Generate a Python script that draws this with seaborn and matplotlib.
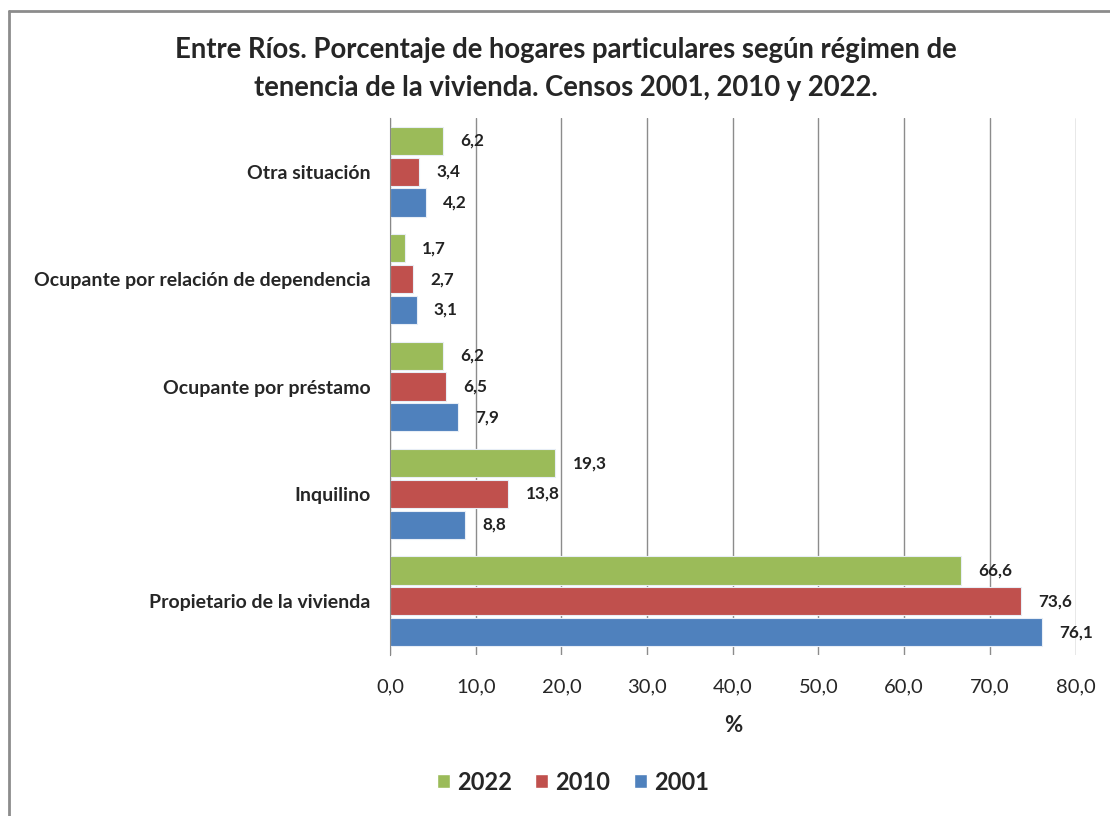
import matplotlib
matplotlib.use("Agg")
import matplotlib.pyplot as plt
from matplotlib.lines import Line2D
from matplotlib.patches import Patch
import seaborn as sns
import pandas as pd

categories = ["Otra situación", "Ocupante por relación de dependencia",
              "Ocupante por préstamo", "Inquilino", "Propietario de la vivienda"]
years = ["2022", "2010", "2001"]
values_2022 = [6.2, 1.7, 6.2, 19.3, 66.6]
values_2010 = [3.4, 2.7, 6.5, 13.8, 73.6]
values_2001 = [4.2, 3.1, 7.9, 8.8, 76.1]
xticks = [0, 10, 20, 30, 40, 50, 60, 70, 80]

colors = {"2022": "#9BBB59", "2010": "#C0504D", "2001": "#4F81BD"}

rows = []
for y, vals in zip(years, [values_2022, values_2010, values_2001]):
    for c, v in zip(categories, vals):
        rows.append({"cat": c, "year": y, "val": v})
df = pd.DataFrame(rows)

sns.set_style("white")
FONT = ["Lato", "DejaVu Sans"]
plt.rcParams["font.family"] = FONT

fig = plt.figure(figsize=(11.1, 8.16), dpi=100)
ax = fig.add_axes([390/1110, 1-655/816, (1076-390)/1110, (655-118)/816])

sns.barplot(data=df, y="cat", x="val", hue="year", order=categories,
            hue_order=years, palette=colors, orient="h", width=0.86,
            gap=0.08, saturation=1, ax=ax, legend=False,
            edgecolor="#E8EEF6", linewidth=0.8)

ax.set_xlim(0, 80.05)
ax.set_xticks(xticks)
ax.set_xticklabels([f"{t:.1f}".replace(".", ",") for t in xticks], fontsize=14.5)
ax.tick_params(axis="x", length=5, color="#888888", pad=12)
ax.tick_params(axis="y", length=0, pad=14)
for lbl in ax.get_yticklabels():
    lbl.set_fontweight("bold")
    lbl.set_fontsize(14)
ax.set_ylabel("")
ax.set_xlabel("%", fontsize=16, fontweight="bold", labelpad=14)
ax.grid(axis="x", color="#8C8C8C", linewidth=1)
ax.set_axisbelow(True)
for s in ["top", "right", "bottom"]:
    ax.spines[s].set_visible(False)
ax.spines["left"].set_color("#888888")

for cont in ax.containers:
    labels = [f"{b.get_width():.1f}".replace(".", ",") for b in cont]
    ax.bar_label(cont, labels=labels, padding=12.5, fontsize=12.3,
                 fontweight="bold", color="#222222")

fig.text(0.51, 1-50/816, "Entre Ríos. Porcentaje de hogares particulares según régimen de",
         ha="center", va="center", fontsize=19.8, fontweight="bold")
fig.text(0.51, 1-88/816, "tenencia de la vivienda. Censos 2001, 2010 y 2022.",
         ha="center", va="center", fontsize=19.8, fontweight="bold")

handles = [Patch(facecolor=colors[y], label=y) for y in years]
fig.legend(handles=handles, loc="center", bbox_to_anchor=(573/1110, 1-782/816),
           ncol=3, frameon=False, prop={"weight": "bold", "size": 17},
           handlelength=0.55, handleheight=0.55, handletextpad=0.3, columnspacing=1.0)

fig.add_artist(Line2D([9/1110, 9/1110], [0, 1-11/816], color="#8C8C8C", lw=2))
fig.add_artist(Line2D([9/1110, 1], [1-11/816, 1-11/816], color="#8C8C8C", lw=2))

fig.savefig("out.png", dpi=100)
